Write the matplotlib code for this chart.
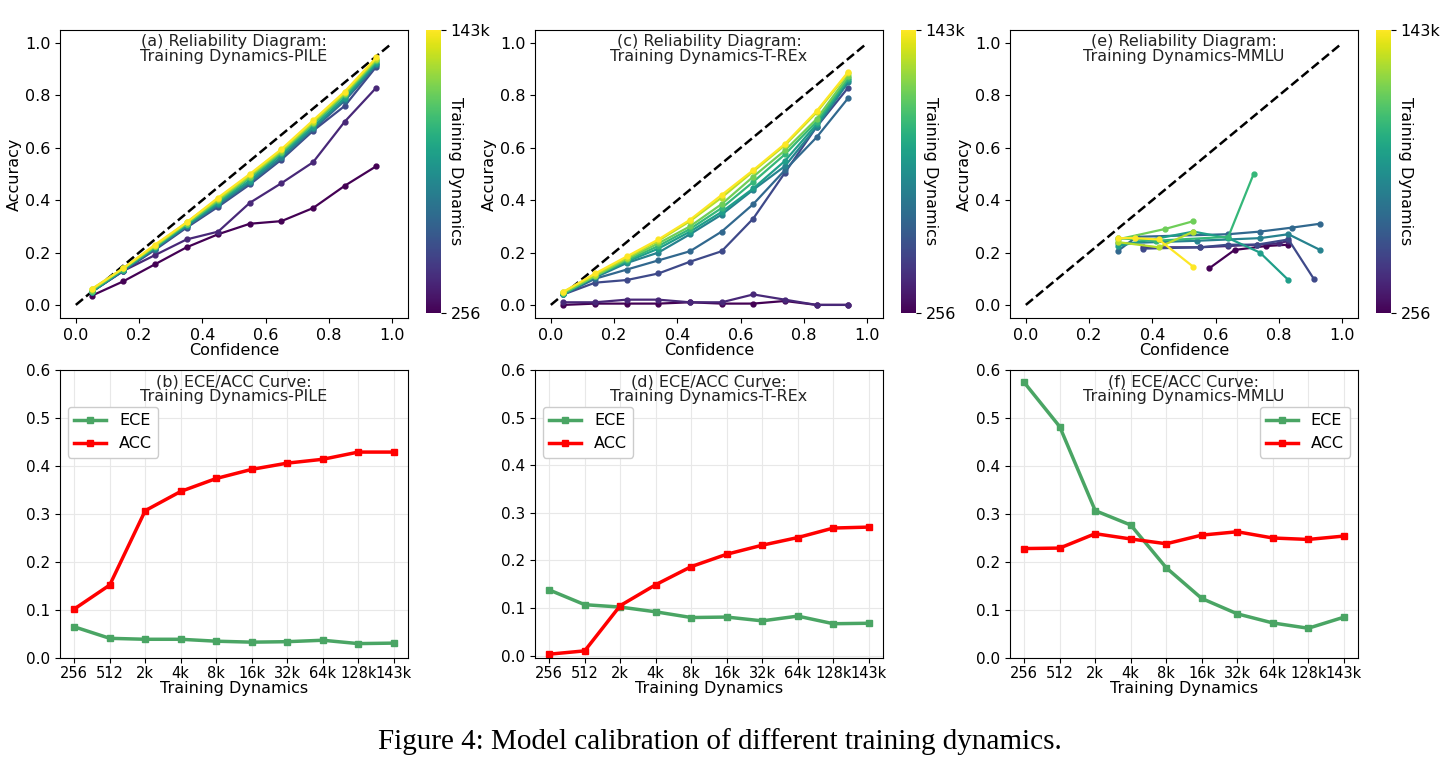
import matplotlib
matplotlib.use("Agg")
import matplotlib.pyplot as plt
import numpy as np

steps = ["256", "512", "2k", "4k", "8k", "16k", "32k", "64k", "128k", "143k"]

pile_x = [0.05, 0.15, 0.25, 0.35, 0.45, 0.55, 0.65, 0.75, 0.85, 0.95]
pile_y = [
    [0.035, 0.09, 0.155, 0.22, 0.27, 0.31, 0.32, 0.37, 0.455, 0.53],
    [0.05, 0.13, 0.19, 0.25, 0.28, 0.39, 0.465, 0.545, 0.70, 0.83],
    [0.05, 0.13, 0.21, 0.295, 0.375, 0.46, 0.555, 0.665, 0.76, 0.91],
    [0.05, 0.13, 0.215, 0.30, 0.38, 0.465, 0.56, 0.67, 0.78, 0.915],
    [0.05, 0.135, 0.215, 0.30, 0.385, 0.47, 0.565, 0.675, 0.785, 0.92],
    [0.05, 0.135, 0.22, 0.305, 0.39, 0.475, 0.575, 0.68, 0.79, 0.925],
    [0.055, 0.135, 0.22, 0.31, 0.395, 0.485, 0.58, 0.69, 0.80, 0.93],
    [0.055, 0.14, 0.225, 0.31, 0.40, 0.49, 0.585, 0.695, 0.805, 0.935],
    [0.06, 0.14, 0.225, 0.315, 0.405, 0.495, 0.59, 0.70, 0.81, 0.94],
    [0.06, 0.14, 0.23, 0.315, 0.41, 0.50, 0.595, 0.705, 0.815, 0.945],
]

trex_x = [0.04, 0.14, 0.24, 0.34, 0.44, 0.54, 0.64, 0.74, 0.84, 0.94]
trex_y = [
    [0.0, 0.005, 0.005, 0.005, 0.01, 0.005, 0.005, 0.015, 0.0, 0.0],
    [0.01, 0.01, 0.02, 0.02, 0.01, 0.01, 0.04, 0.02, 0.0, 0.0],
    [0.04, 0.085, 0.095, 0.12, 0.165, 0.205, 0.33, 0.505, 0.68, 0.83],
    [0.04, 0.10, 0.135, 0.17, 0.205, 0.28, 0.385, 0.515, 0.64, 0.79],
    [0.04, 0.105, 0.16, 0.20, 0.27, 0.345, 0.44, 0.53, 0.68, 0.85],
    [0.04, 0.11, 0.165, 0.215, 0.28, 0.355, 0.445, 0.55, 0.69, 0.86],
    [0.045, 0.11, 0.17, 0.225, 0.29, 0.37, 0.47, 0.575, 0.70, 0.865],
    [0.045, 0.11, 0.175, 0.235, 0.30, 0.385, 0.49, 0.59, 0.71, 0.875],
    [0.05, 0.115, 0.18, 0.245, 0.32, 0.41, 0.51, 0.61, 0.735, 0.885],
    [0.05, 0.12, 0.185, 0.25, 0.325, 0.42, 0.515, 0.615, 0.74, 0.89],
]

mmlu_x = [
    [0.58, 0.66, 0.76, 0.83],
    [0.37, 0.55, 0.64, 0.73, 0.80, 0.83],
    [0.37, 0.55, 0.64, 0.73, 0.83, 0.91],
    [0.29, 0.35, 0.64, 0.74, 0.84, 0.93],
    [0.29, 0.54, 0.74, 0.83, 0.93],
    [0.29, 0.53, 0.64, 0.74, 0.83],
    [0.29, 0.41, 0.64, 0.72],
    [0.29, 0.44, 0.53],
    [0.29, 0.42, 0.53],
    [0.29, 0.345, 0.42, 0.53],
]
mmlu_y = [
    [0.14, 0.21, 0.225, 0.23],
    [0.22, 0.22, 0.225, 0.23, 0.235, 0.245],
    [0.215, 0.22, 0.23, 0.23, 0.25, 0.10],
    [0.205, 0.26, 0.27, 0.28, 0.295, 0.31],
    [0.235, 0.245, 0.255, 0.27, 0.21],
    [0.225, 0.28, 0.255, 0.20, 0.095],
    [0.255, 0.245, 0.26, 0.50],
    [0.25, 0.29, 0.32],
    [0.24, 0.22, 0.28],
    [0.255, 0.255, 0.25, 0.145],
]

pile_ece = [0.065, 0.041, 0.039, 0.039, 0.035, 0.033, 0.034, 0.037, 0.030, 0.031]
pile_acc = [0.102, 0.152, 0.307, 0.347, 0.374, 0.393, 0.406, 0.414, 0.429, 0.429]
trex_ece = [0.138, 0.107, 0.102, 0.092, 0.080, 0.081, 0.073, 0.083, 0.067, 0.068]
trex_acc = [0.003, 0.010, 0.105, 0.149, 0.187, 0.213, 0.232, 0.248, 0.268, 0.270]
mmlu_ece = [0.574, 0.482, 0.307, 0.277, 0.188, 0.124, 0.092, 0.073, 0.062, 0.085]
mmlu_acc = [0.228, 0.229, 0.259, 0.248, 0.238, 0.256, 0.263, 0.250, 0.247, 0.254]

plt.rcParams['font.family'] = ['DejaVu Sans']
fig = plt.figure(figsize=(14.4, 7.68), dpi=100)
W, H = 1440, 768
cmap = plt.get_cmap('viridis')

lefts = [60, 535, 1010]
aw = 348
top_titles = ["(a) Reliability Diagram:\nTraining Dynamics-PILE",
              "(c) Reliability Diagram:\nTraining Dynamics-T-REx",
              "(e) Reliability Diagram:\nTraining Dynamics-MMLU"]
bot_titles = ["(b) ECE/ACC Curve:\nTraining Dynamics-PILE",
              "(d) ECE/ACC Curve:\nTraining Dynamics-T-REx",
              "(f) ECE/ACC Curve:\nTraining Dynamics-MMLU"]
xs_all = [[pile_x] * 10, [trex_x] * 10, mmlu_x]
ys_all = [pile_y, trex_y, mmlu_y]
eces = [pile_ece, trex_ece, mmlu_ece]
accs = [pile_acc, trex_acc, mmlu_acc]
leg_loc = ["upper left", "upper left", "upper right"]

def rect(l, t, w, h):
    return [l / W, 1 - (t + h) / H, w / W, h / H]

for k in range(3):
    ax = fig.add_axes(rect(lefts[k], 30, aw, 288))
    ax.plot([0, 1], [0, 1], 'k--', lw=1.8)
    for i in range(10):
        ax.plot(xs_all[k][i], ys_all[k][i], '-o', color=cmap(i / 9), ms=3.5, lw=1.6)
    ax.set_xlim(-0.05, 1.05); ax.set_ylim(-0.05, 1.05)
    ax.set_xticks(np.arange(0, 1.01, 0.2)); ax.set_yticks(np.arange(0, 1.01, 0.2))
    ax.tick_params(labelsize=11.5)
    ax.set_xlabel("Confidence", fontsize=11.5, labelpad=0)
    ax.set_ylabel("Accuracy", fontsize=11.5, labelpad=2)
    ax.text(0.5, 0.985, top_titles[k], transform=ax.transAxes, ha='center', va='top', fontsize=11.5, color='#222222', linespacing=1.0)
    cax = fig.add_axes(rect(lefts[k] + 366, 30, 15, 283))
    sm = matplotlib.cm.ScalarMappable(cmap=cmap, norm=matplotlib.colors.Normalize(0, 1))
    cb = fig.colorbar(sm, cax=cax, ticks=[0, 1])
    cb.ax.set_yticklabels(["256", "143k"], fontsize=11.5)
    cb.outline.set_visible(False)
    cb.ax.yaxis.set_label_position('right')
    cb.ax.set_ylabel("Training Dynamics", rotation=270, fontsize=11.5, labelpad=-20)

    bx = fig.add_axes(rect(lefts[k], 370, aw, 288))
    xx = np.arange(10)
    bx.plot(xx, eces[k], '-s', color='#4aa564', lw=2.5, ms=5, label='ECE')
    bx.plot(xx, accs[k], '-s', color='#ff0000', lw=2.5, ms=5, label='ACC')
    bx.set_xticks(xx); bx.set_xticklabels(steps, fontsize=10.5)
    bx.set_ylim(-0.005 if k == 1 else 0, 0.6)
    bx.set_yticks(np.arange(0, 0.61, 0.1))
    bx.tick_params(axis='y', labelsize=11)
    bx.tick_params(axis='x', pad=2)
    bx.set_xlim(-0.4, 9.4)
    bx.grid(True, color='#e8e8e8', lw=0.8)
    bx.set_xlabel("Training Dynamics", fontsize=11.5, labelpad=0)
    bx.text(0.5, 0.985, bot_titles[k], transform=bx.transAxes, ha='center', va='top', fontsize=11.5, color='#222222', linespacing=1.0)
    bx.legend(loc=leg_loc[k], fontsize=11.5, bbox_to_anchor=(0.0, 0.9) if k < 2 else (1.0, 0.9), framealpha=1, edgecolor='#cccccc')

fig.text(0.5, 1 - 742 / H, "Figure 4: Model calibration of different training dynamics.",
         ha='center', va='center', fontsize=21, family='Liberation Serif')
fig.savefig("out.png", dpi=100)
